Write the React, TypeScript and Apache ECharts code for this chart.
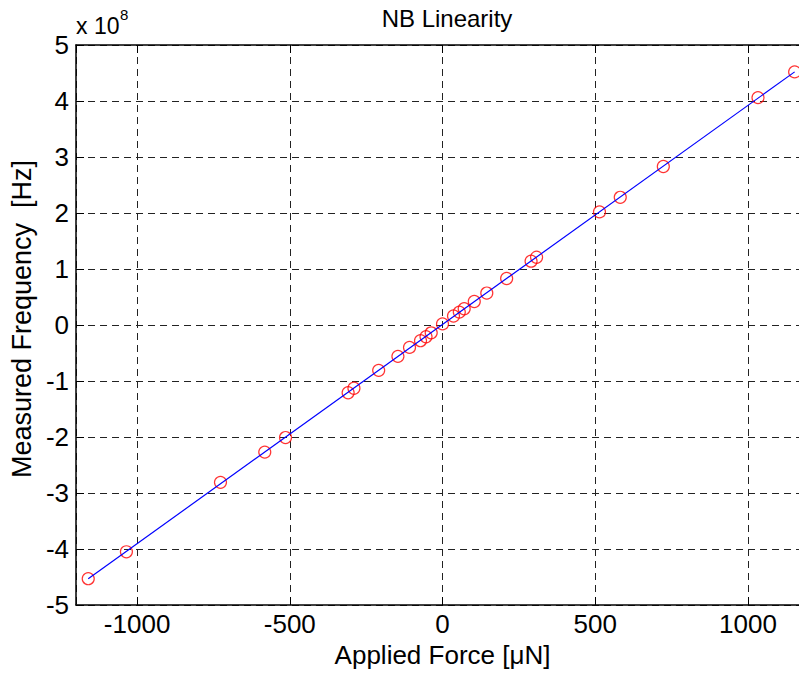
import React, { useEffect, useRef } from "react";
import * as echarts from "echarts";

// Applied force [µN] and measured frequency [Hz]
const forceData: number[] = [
  -1160, -1035, -727, -582, -514, -309, -290, -209, -146, -108, -72, -54, -37, 0,
  36, 55, 71, 104, 145, 210, 290, 308, 514, 582, 723, 1033, 1153,
];
const freqData: number[] = [
  -4.53e8, -4.05e8, -2.81e8, -2.27e8, -2.01e8, -1.21e8, -1.13e8, -0.81e8, -0.56e8, -0.4e8, -0.28e8, -0.21e8, -0.14e8, 0.02e8,
  0.16e8, 0.23e8, 0.29e8, 0.42e8, 0.57e8, 0.83e8, 1.14e8, 1.21e8, 2.02e8, 2.28e8, 2.83e8, 4.06e8, 4.52e8,
];
// Linear fit line end points
const fitX: number[] = [-1160, 1153];
const fitY: number[] = [-4.53e8, 4.52e8];

const FONT = "'Liberation Sans', Arial, Helvetica, sans-serif";

export default function App() {
  const ref = useRef<HTMLDivElement>(null);
  useEffect(() => {
    if (!ref.current) return;
    const chart = echarts.init(ref.current, null, { renderer: "svg" });
    const pts = forceData.map((x, i) => [x, freqData[i]]);
    const fit = fitX.map((x, i) => [x, fitY[i]]);
    chart.setOption({
      animation: false,
      backgroundColor: "#fff",
      textStyle: { fontFamily: FONT },
      title: {
        text: "NB Linearity",
        left: 442,
        top: 1,
        textAlign: "center",
        textStyle: { fontFamily: FONT, fontSize: 24, fontWeight: "normal", color: "#000" },
      },
      grid: { left: 75, top: 45, width: 734, height: 560, containLabel: false },
      xAxis: [
        {
          type: "value",
          min: -1200,
          max: 1200,
          splitNumber: 5,
          position: "bottom",
          name: "Applied Force [\u03bcN]",
          nameLocation: "middle",
          nameGap: 28,
          nameTextStyle: { fontFamily: FONT, fontSize: 26, color: "#000" },
          axisLine: { show: true, onZero: false, lineStyle: { color: "#000", width: 1.5 } },
          axisTick: { show: true, inside: true, length: 8, lineStyle: { color: "#000", width: 1 } },
          axisLabel: {
            show: true,
            showMinLabel: false,
            showMaxLabel: false,
            margin: 6,
            fontFamily: FONT,
            fontSize: 26,
            color: "#000",
            formatter: (v: number) => String(v),
          },
          splitLine: { show: true, lineStyle: { color: "#222", width: 1, type: [7, 5] } },
        },
        {
          type: "value",
          min: -1200,
          max: 1200,
          splitNumber: 5,
          position: "top",
          axisLine: { show: true, onZero: false, lineStyle: { color: "#000", width: 1.5 } },
          axisTick: { show: true, inside: true, length: 8, lineStyle: { color: "#000", width: 1 } },
          axisLabel: { show: false },
          splitLine: { show: false },
        },
      ],
      yAxis: {
        type: "value",
        min: -5e8,
        max: 5e8,
        interval: 1e8,
        name: "Measured Frequency  [Hz]",
        nameLocation: "middle",
        nameGap: 40,
        nameTextStyle: { fontFamily: FONT, fontSize: 27, color: "#000", padding: [0, 0, 0, 12] },
        axisLine: { show: true, onZero: false, lineStyle: { color: "#000", width: 1.5 } },
        axisTick: { show: true, inside: true, length: 8, lineStyle: { color: "#000", width: 1 } },
        axisLabel: {
          margin: 7,
          fontFamily: FONT,
          fontSize: 26,
          color: "#000",
          formatter: (v: number) => String(Math.round(v / 1e8)),
        },
        splitLine: { show: true, lineStyle: { color: "#222", width: 1, type: [7, 5] } },
      },
      graphic: [
        {
          type: "text",
          left: 76,
          top: 14,
          style: { text: "x 10", fontFamily: FONT, fontSize: 23, fill: "#000" },
        },
        {
          type: "text",
          left: 120,
          top: 7,
          style: { text: "8", fontFamily: FONT, fontSize: 15, fill: "#000" },
        },
      ],
      series: [
        {
          type: "scatter",
          data: pts,
          symbol: "circle",
          symbolSize: 12,
          itemStyle: { color: "rgba(0,0,0,0)", borderColor: "#ff0000", borderWidth: 1.2 },
          z: 2,
        },
        {
          type: "line",
          data: fit,
          showSymbol: false,
          symbol: "none",
          lineStyle: { color: "#0000ff", width: 1.2 },
          z: 3,
        },
      ],
    });
    return () => chart.dispose();
  }, []);
  return (
    <div style={{ position: "absolute", left: 0, top: 0, width: 799, height: 674, overflow: "hidden" }}>
      <div ref={ref} style={{ width: 840, height: 674 }} />
    </div>
  );
}
